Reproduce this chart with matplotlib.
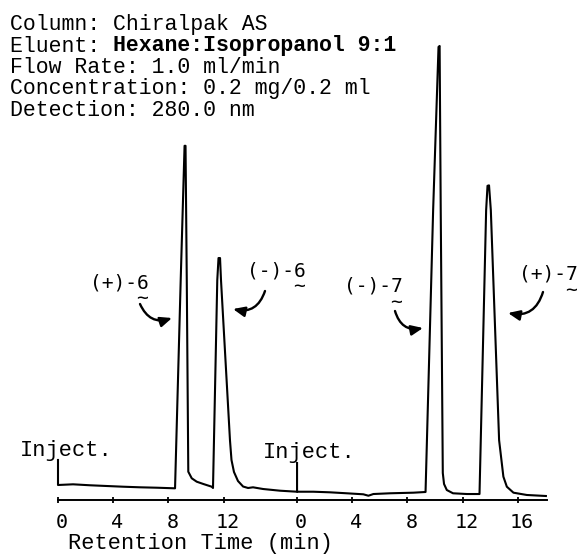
import matplotlib
matplotlib.use("Agg")
import matplotlib.pyplot as plt
from matplotlib.transforms import ScaledTranslation

# ---------------- data ----------------
# first run: (+)-6 / (-)-6  (time in min, detector signal in arbitrary units)
left_time = [0.0, 0.0, 1.09, 2.32, 3.55, 4.71, 5.94, 7.17, 8.48, 8.89, 9.17, 9.24,
             9.33, 9.44, 9.69, 10.05, 10.53, 11.14, 11.23, 11.54, 11.63, 11.74, 11.81,
             12.46, 12.57, 12.75, 13.04, 13.41, 13.77, 14.13, 14.86, 16.09, 17.32]
left_signal = [8.70, 3.26, 3.41, 3.20, 3.04, 2.89, 2.76, 2.67, 2.54, 47.8, 77.0, 77.0,
               47.8, 6.15, 4.72, 3.98, 3.48, 2.89, 2.61, 47.8, 52.6, 52.6, 47.8,
               13.0, 8.70, 6.09, 4.13, 2.93, 2.61, 2.76, 2.39, 2.02, 1.80]

# second run: (-)-7 / (+)-7
right_time = [0.0, 0.0, 1.18, 2.39, 3.60, 4.80, 5.17, 5.53, 6.74, 8.43, 9.31, 9.86,
              10.25, 10.33, 10.41, 10.56, 10.65, 10.85, 11.30, 12.30, 13.14, 13.22,
              13.70, 13.80, 13.91, 14.04, 14.64, 14.95, 15.20, 15.68, 16.65, 18.03]
right_signal = [8.04, 1.80, 1.80, 1.67, 1.46, 1.24, 0.93, 1.30, 1.46, 1.59, 1.74, 63.0,
                98.5, 98.7, 63.0, 5.87, 3.48, 2.17, 1.46, 1.30, 1.30, 1.30,
                63.0, 68.3, 68.4, 63.0, 13.0, 5.07, 2.89, 1.59, 1.09, 0.87]

left_ticks = [0, 4, 8, 12]
right_ticks = [0, 4, 8, 12, 16]
RIGHT_OFFSET = 17.32       # where the second run starts on the shared time axis

header_lines = ["Column: Chiralpak AS",
                "Eluent: ",
                "Flow Rate: 1.0 ml/min",
                "Concentration: 0.2 mg/0.2 ml",
                "Detection: 280.0 nm"]
eluent_value = "Hexane:Isopropanol 9:1"
peak_labels = ["(+)-6", "(-)-6", "(-)-7", "(+)-7"]
inject_label = "Inject."
xlabel = "Retention Time (min)"

# ---------------- layout ----------------
W, H = 582, 556
fig = plt.figure(figsize=(W / 100, H / 100), dpi=100)
fig.patch.set_facecolor("white")


def fx(x):
    return x / W


def fy(y):
    return 1 - y / H


MONO = "Liberation Mono"
ax = fig.add_axes([fx(58), fy(500), (547 - 58) / W, (500 - 40) / H])
ax.set_xlim(0, 35.43)
ax.set_ylim(0, 100)
ax.set_facecolor("white")

ax.plot(left_time, left_signal, color="black", lw=1.5, clip_on=False,
        solid_joinstyle="round")
ax.plot([t + RIGHT_OFFSET for t in right_time], right_signal, color="black",
        lw=1.5, clip_on=False, solid_joinstyle="round")

for s in ["top", "left", "right"]:
    ax.spines[s].set_visible(False)
ax.spines["bottom"].set_linewidth(1.4)
ax.set_yticks([])
ticks = list(left_ticks) + [t + RIGHT_OFFSET for t in right_ticks]
labels = [str(t) for t in left_ticks] + [str(t) for t in right_ticks]
ax.set_xticks(ticks)
ax.set_xticklabels(labels, fontfamily="DejaVu Sans Mono", fontsize=14.5)
ax.tick_params(axis="x", direction="inout", length=5, width=1.3, pad=7,
               color="black", labelcolor="black")
shift = ScaledTranslation(4 / 100, 0, fig.dpi_scale_trans)
for lbl in ax.get_xticklabels():
    lbl.set_transform(lbl.get_transform() + shift)

# header (typewriter: 6 lines per inch)
FS = 15.5
hdr_base = [30, 51.5, 73, 94.5, 116]
for line, yb in zip(header_lines, hdr_base):
    fig.text(fx(10), fy(yb), line, family=MONO, fontsize=FS, va="baseline",
             ha="left", color="black")
fig.text(fx(10 + 8 * 0.6 * FS * 100 / 72), fy(hdr_base[1]), eluent_value,
         family=MONO, fontsize=FS, fontweight="bold", va="baseline", ha="left",
         color="black")

# x label
fig.text(fx(200), fy(544), xlabel, family=MONO, fontsize=15.8, ha="center",
         va="center", color="black")

# inject labels
fig.text(fx(20), fy(456), inject_label, family=MONO, fontsize=15.8, ha="left",
         va="baseline", color="black")
fig.text(fx(263), fy(458), inject_label, family=MONO, fontsize=15.8, ha="left",
         va="baseline", color="black")

# peak labels with the squiggle under the compound number (one text each)
label_pos = [(119, 291), (276, 279), (373, 294), (548, 282)]
for lab, (x, y) in zip(peak_labels, label_pos):
    fig.text(fx(x), fy(y), lab + "\n" + " " * (len(lab) - 1) + "~",
             family="DejaVu Sans Mono", fontsize=14, ha="center", va="center",
             multialignment="left", linespacing=0.8, color="black")

# curved arrows (tail -> tip, pixel positions)
arrows = [((140, 304), (172, 318), 0.45),
          ((265, 291), (233, 309), -0.45),
          ((395, 311), (423, 328), 0.45),
          ((543, 292), (508, 313), -0.45)]
for (x0, y0), (x1, y1), rad in arrows:
    ax.annotate("", xy=(fx(x1), fy(y1)), xycoords="figure fraction",
                xytext=(fx(x0), fy(y0)), textcoords="figure fraction",
                arrowprops=dict(arrowstyle="-|>,head_length=0.7,head_width=0.3",
                                connectionstyle=f"arc3,rad={rad}",
                                color="black", lw=1.7, shrinkA=0, shrinkB=0),
                annotation_clip=False)

fig.savefig("out.png", dpi=100, facecolor="white")
